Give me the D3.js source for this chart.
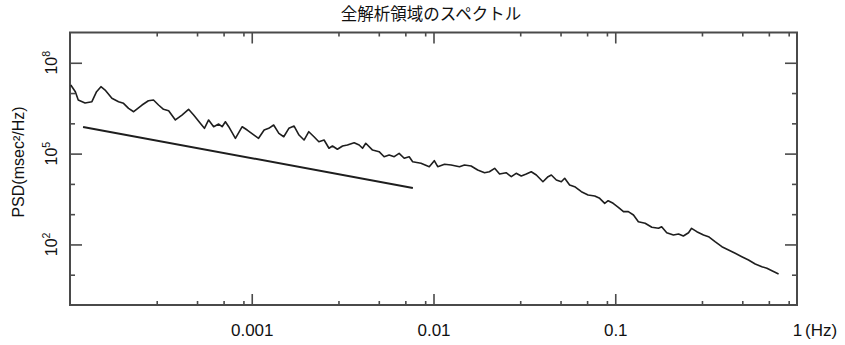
<!DOCTYPE html>
<html>
<head>
<meta charset="utf-8">
<script src="https://cdn.jsdelivr.net/npm/d3@7"></script>
<style>
  body { margin: 0; background: #fff; }
</style>
</head>
<body>
<div id="chart"></div>
<script>
// spectrum (Hz, msec^2/Hz)
const freqHz = [
  1.01e-4, 1.07e-4, 1.11e-4, 1.21e-4, 1.32e-4, 1.40e-4, 1.48e-4, 1.56e-4, 1.70e-4, 1.85e-4,
  1.97e-4, 2.10e-4, 2.24e-4, 2.49e-4, 2.70e-4, 2.88e-4, 3.07e-4, 3.27e-4, 3.49e-4, 3.80e-4,
  4.13e-4, 4.49e-4, 4.79e-4, 5.21e-4, 5.49e-4, 5.79e-4, 6.17e-4, 6.58e-4, 6.87e-4, 7.16e-4,
  7.47e-4, 8.13e-4, 8.86e-4, 9.44e-4, 1.03e-3, 1.09e-3, 1.17e-3, 1.24e-3, 1.32e-3, 1.41e-3,
  1.50e-3, 1.60e-3, 1.71e-3, 1.82e-3, 1.94e-3, 2.06e-3, 2.20e-3, 2.34e-3, 2.50e-3, 2.66e-3,
  2.78e-3, 2.96e-3, 3.16e-3, 3.36e-3, 3.66e-3, 3.90e-3, 4.07e-3, 4.24e-3, 4.62e-3, 5.02e-3,
  5.35e-3, 5.70e-3, 6.08e-3, 6.47e-3, 6.90e-3, 7.35e-3, 7.68e-3, 8.53e-3, 9.48e-3, 1.01e-2,
  1.055e-2, 1.15e-2, 1.25e-2, 1.39e-2, 1.48e-2, 1.61e-2, 1.75e-2, 1.91e-2, 2.03e-2, 2.17e-2,
  2.31e-2, 2.51e-2, 2.68e-2, 2.85e-2, 3.04e-2, 3.24e-2, 3.45e-2, 3.68e-2, 4.00e-2, 4.27e-2,
  4.45e-2, 4.74e-2, 5.05e-2, 5.27e-2, 5.61e-2, 5.98e-2, 6.51e-2, 7.09e-2, 7.71e-2, 8.21e-2,
  8.75e-2, 9.14e-2, 9.74e-2, 0.104, 0.111, 0.118, 0.126, 0.134, 0.146, 0.159,
  0.173, 0.180, 0.192, 0.209, 0.223, 0.237, 0.253, 0.263, 0.281, 0.306,
  0.326, 0.354, 0.386, 0.420, 0.457, 0.497, 0.541, 0.589, 0.641, 0.683,
  0.728, 0.792
];
const psdValues = [
  1.84e7, 1.11e7, 5.89e6, 4.69e6, 5.18e6, 1.11e7, 1.62e7, 1.26e7, 6.70e6, 5.18e6,
  4.58e6, 3.13e6, 2.42e6, 4.03e6, 5.58e6, 5.89e6, 4.03e6, 2.90e6, 2.61e6, 1.29e6,
  1.88e6, 2.90e6, 1.88e6, 1.00e6, 6.85e5, 1.29e6, 7.73e5, 9.50e5, 7.73e5, 1.13e6,
  7.73e5, 3.20e5, 7.73e5, 6.01e5, 4.11e5, 3.20e5, 6.01e5, 6.85e5, 8.81e5, 4.68e5,
  3.61e5, 6.85e5, 8.15e5, 4.11e5, 2.81e5, 5.29e5, 3.61e5, 2.47e5, 2.81e5, 1.50e5,
  1.78e5, 1.39e5, 1.78e5, 1.92e5, 2.29e5, 1.92e5, 1.50e5, 2.19e5, 1.31e5, 1.16e5,
  7.90e4, 8.99e4, 7.90e4, 1.02e5, 7.00e4, 7.90e4, 5.41e4, 4.79e4, 3.69e4, 5.83e4,
  3.69e4, 4.43e4, 4.20e4, 3.69e4, 4.20e4, 3.89e4, 2.87e4, 2.34e4, 2.52e4, 3.27e4,
  2.12e4, 2.34e4, 1.73e4, 2.24e4, 1.82e4, 2.12e4, 2.52e4, 1.96e4, 1.18e4, 1.73e4,
  1.96e4, 1.34e4, 1.18e4, 1.53e4, 9.18e3, 8.07e3, 5.52e3, 4.29e3, 3.98e3, 3.34e3,
  2.28e3, 2.78e3, 2.28e3, 1.69e3, 1.21e3, 1.21e3, 938, 564, 499, 368,
  341, 385, 244, 205, 221, 190, 244, 341, 264, 205,
  180, 123, 84.2, 65.5, 51.0, 39.4, 30.6, 22.6, 18.4, 16.3,
  13.6, 10.6
];

// 1/f reference line
const refLineFreq = [1.18e-4, 7.7e-3];
const refLinePsd = [7.6e5, 7.3e3];

const xMajorTicks = [0.001, 0.01, 0.1, 1];
const xTickLabels = ["0.001", "0.01", "0.1", "1"];
const xMinorTicks = [3e-4, 5e-4, 7e-4, 9e-4, 3e-3, 5e-3, 7e-3, 9e-3,
                     3e-2, 5e-2, 7e-2, 9e-2, 0.3, 0.5, 0.7, 0.9];
const yMajorTicks = [1e8, 1e5, 1e2];
const yMajorExp = ["8", "5", "2"];
const yMinorTicks = [1e1, 1e3, 1e4, 1e6, 1e7];

const titleText = "全解析領域のスペクトル";
const yTitle = "PSD(msec²/Hz)";
const xUnit = "(Hz)";

var W = 845, H = 345;
var mLeft = 70, mRight = 797, mTop = 32.5, mBottom = 305;

var svg = d3.select("#chart").append("svg")
    .attr("width", W)
    .attr("height", H)
    .style("font-family", "'Liberation Sans', Arial, sans-serif");

var x = d3.scaleLog().domain([1e-4, 1]).range([mLeft, mRight]);
var y = d3.scaleLog().domain([1, 1e9]).range([mBottom, mTop]);

var frameCol = "#4a4a4a";

function styleAxis(g) {
  g.select(".domain").remove();
  g.selectAll(".tick line").attr("stroke", frameCol).attr("stroke-width", 1.6);
}

// x ticks, bottom + top
svg.append("g").attr("transform", "translate(0," + mBottom + ")")
  .call(d3.axisBottom(x).tickValues(xMajorTicks).tickSize(-11).tickPadding(19)
    .tickFormat(function (d, i) { return xTickLabels[i]; }))
  .call(styleAxis)
  .call(function (g) {
    g.selectAll(".tick text").attr("font-size", 17).attr("fill", "#111")
      .attr("font-family", "'Liberation Sans', Arial, sans-serif");
    g.selectAll(".tick").filter(function (d) { return d === 1; }).select("line").remove();
  });
svg.append("g").attr("transform", "translate(0," + mBottom + ")")
  .call(d3.axisBottom(x).tickValues(xMinorTicks).tickSize(-4).tickFormat(""))
  .call(styleAxis);
svg.append("g").attr("transform", "translate(0," + mTop + ")")
  .call(d3.axisTop(x).tickValues(xMajorTicks.slice(0, 3)).tickSize(-11).tickFormat(""))
  .call(styleAxis);
svg.append("g").attr("transform", "translate(0," + mTop + ")")
  .call(d3.axisTop(x).tickValues(xMinorTicks).tickSize(-4).tickFormat(""))
  .call(styleAxis);

// y ticks, left + right
svg.append("g").attr("transform", "translate(" + mLeft + ",0)")
  .call(d3.axisLeft(y).tickValues(yMajorTicks).tickSize(-12).tickFormat(""))
  .call(styleAxis);
svg.append("g").attr("transform", "translate(" + mLeft + ",0)")
  .call(d3.axisLeft(y).tickValues(yMinorTicks).tickSize(-5).tickFormat(""))
  .call(styleAxis);
svg.append("g").attr("transform", "translate(" + mRight + ",0)")
  .call(d3.axisRight(y).tickValues(yMajorTicks).tickSize(-12).tickFormat(""))
  .call(styleAxis);
svg.append("g").attr("transform", "translate(" + mRight + ",0)")
  .call(d3.axisRight(y).tickValues(yMinorTicks).tickSize(-5).tickFormat(""))
  .call(styleAxis);

// y tick labels: 10^n, rotated
var ylab = svg.append("g").selectAll("text")
  .data(yMajorTicks)
  .enter().append("text")
  .attr("transform", function (d) { return "translate(57," + y(d) + ") rotate(-90)"; })
  .attr("text-anchor", "middle")
  .attr("font-size", 16)
  .attr("fill", "#111");
ylab.append("tspan").text("10");
ylab.append("tspan")
  .attr("font-size", 10.5)
  .attr("dy", -7)
  .text(function (d, i) { return yMajorExp[i]; });

// frame
svg.append("rect")
  .attr("x", mLeft).attr("y", mTop)
  .attr("width", mRight - mLeft).attr("height", mBottom - mTop)
  .attr("fill", "none")
  .attr("stroke", frameCol)
  .attr("stroke-width", 2);

// spectrum
var pts = freqHz.map(function (f, i) { return { f: f, p: psdValues[i] }; });
var line = d3.line()
  .x(function (d) { return x(d.f); })
  .y(function (d) { return y(d.p); });

svg.append("path")
  .datum(pts)
  .attr("d", line)
  .attr("fill", "none")
  .attr("stroke", "#1e1e1e")
  .attr("stroke-width", 1.6)
  .attr("stroke-linejoin", "round");

var ref = refLineFreq.map(function (f, i) { return { f: f, p: refLinePsd[i] }; });
svg.append("path")
  .datum(ref)
  .attr("d", line)
  .attr("fill", "none")
  .attr("stroke", "#1e1e1e")
  .attr("stroke-width", 2);

// unit after "1"
svg.append("text")
  .attr("x", x(1) + 8)
  .attr("y", 336)
  .attr("font-size", 17)
  .attr("fill", "#111")
  .text(xUnit);

// y title
svg.append("text")
  .attr("transform", "translate(24,162) rotate(-90)")
  .attr("text-anchor", "middle")
  .attr("font-size", 16)
  .attr("fill", "#111")
  .text(yTitle);

// title
svg.append("text")
  .attr("x", 431)
  .attr("y", 20)
  .attr("text-anchor", "middle")
  .attr("font-family", "'Noto Sans CJK JP', sans-serif")
  .attr("font-size", 16.5)
  .attr("fill", "#111")
  .text(titleText);
</script>
</body>
</html>
